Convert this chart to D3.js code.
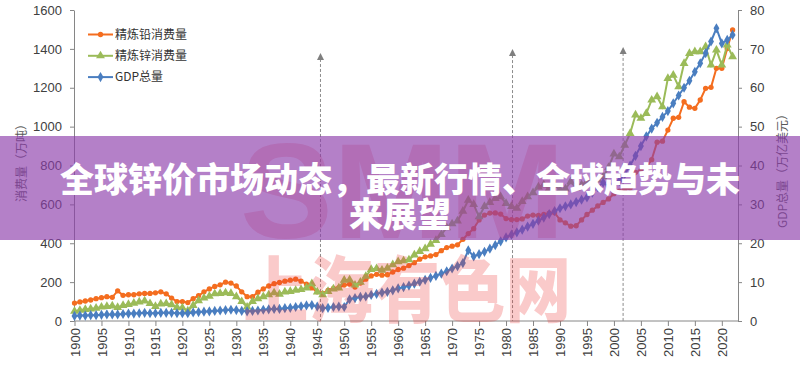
<!DOCTYPE html>
<html lang="zh">
<head>
<meta charset="UTF-8">
<script src="https://d3js.org/d3.v7.min.js"></script>
<style>
  body {margin: 0; background: #fff;}
  svg {display: block;}
  .axis text {font-family: "Liberation Sans", Arial, sans-serif; font-size: 13px; fill: #404040;}
  .axis path, .axis line {stroke: #868686;}
  .cn {font-family: "Noto Sans CJK SC", sans-serif;}
</style>
</head>
<body>
<svg id="chart" width="800" height="376"></svg>
<script>
// years on the category axis
const years = d3.range(1900, 2023);

// refined lead consumption (10k t)
const lead = [
  92, 98, 103, 108, 115, 120, 125, 122, 155, 132,
  135, 135, 140, 142, 142, 145, 150, 140, 118, 100,
  100, 95, 115, 130, 150, 165, 178, 186, 200, 195,
  180, 150, 125, 125, 148, 165, 180, 192, 198, 205,
  210, 215, 205, 190, 170, 150, 142, 158, 168, 172,
  185, 190, 175, 195, 215, 232, 240, 236, 238, 252,
  265, 272, 285, 300, 318, 330, 335, 342, 362, 378,
  385, 392, 420, 450, 475, 520, 545, 555, 556, 550,
  527, 522, 522, 525, 540, 545, 543, 548, 555, 557,
  520, 505, 488, 490, 520, 548, 570, 592, 610, 628,
  655, 668, 676, 684, 765, 775, 790, 830, 920, 925,
  982, 1043, 1048, 1128, 1100, 1094, 1137, 1197, 1202, 1300,
  1300, 1402, 1497
];

// refined zinc consumption (10k t)
const zinc = [
  50, 55, 60, 62, 66, 72, 75, 78, 70, 80,
  85, 92, 98, 103, 90, 75, 88, 90, 84, 70,
  68, 52, 80, 105, 118, 128, 140, 142, 145, 142,
  125, 100, 72, 100, 115, 125, 135, 145, 138, 150,
  152, 158, 162, 170, 192, 150, 135, 152, 165, 170,
  210, 212, 185, 200, 230, 265, 270, 262, 272, 290,
  305, 310, 315, 340, 358, 372, 395, 415, 445, 480,
  500, 515, 565, 622, 600, 536, 590, 610, 631, 640,
  605, 590, 580, 615, 640, 660, 690, 700, 682, 700,
  674, 680, 717, 683, 700, 717, 734, 726, 742, 790,
  860, 845, 905, 965, 1060, 1043, 1068, 1137, 1154, 1102,
  1248, 1265, 1205, 1325, 1377, 1386, 1386, 1411, 1317, 1394,
  1317, 1420, 1360
];

// GDP total (trillion USD), right axis
const gdp = [
  1.3, 1.4, 1.4, 1.5, 1.5, 1.6, 1.7, 1.7, 1.7, 1.8,
  1.9, 1.9, 2.0, 2.1, 2.0, 2.0, 2.1, 2.1, 2.1, 2.0,
  2.0, 2.0, 2.2, 2.3, 2.4, 2.5, 2.6, 2.7, 2.8, 2.9,
  2.8, 2.6, 2.5, 2.6, 2.7, 2.9, 3.0, 3.1, 3.1, 3.3,
  3.4, 3.6, 3.8, 4.0, 4.1, 3.7, 3.3, 3.4, 3.6, 3.7,
  3.6, 5.6, 5.9, 6.2, 6.3, 6.7, 7.0, 7.3, 7.5, 7.9,
  8.4, 8.7, 9.1, 9.6, 10.1, 10.6, 11.1, 11.6, 12.2, 12.8,
  13.5, 14.1, 14.9, 18.2, 16.6, 17.2, 17.8, 18.6, 19.5, 20.5,
  21.5, 22.2, 22.8, 23.5, 24.3, 25.0, 25.8, 26.6, 27.5, 28.3,
  29.0, 29.5, 30.0, 30.6, 31.2, 31.8, 33.0, 34.4, 35.6, 34.6,
  35.2, 36.0, 37.8, 40.0, 42.5, 45.0, 47.5, 49.5, 51.0, 52.5,
  54.0, 56.0, 58.0, 60.0, 61.8, 64.1, 66.3, 68.9, 71.9, 75.3,
  71.4, 72.3, 73.6
];

const leftTicks = [0, 200, 400, 600, 800, 1000, 1200, 1400, 1600];
const rightTicks = [0, 10, 20, 30, 40, 50, 60, 70, 80];
const yearTicks = d3.range(1900, 2021, 5);
const legendLabels = ["精炼铅消费量", "精炼锌消费量", "GDP总量"];
const markYears = [1945.6, 1981.2, 2001.7];
const markTops = [1379, 1399, 1410];
const titleLines = ["全球锌价市场动态，最新行情、全球趋势与未", "来展望"];

const svg = d3.select("#chart");

const x = d3.scaleLinear().domain([1900, 2023]).range([74.5, 738]);
const yL = d3.scaleLinear().domain([0, 1600]).range([321, 10]);
const yR = d3.scaleLinear().domain([0, 80]).range([321, 10]);

// left axis
svg.append("g").attr("class", "axis")
    .attr("transform", "translate(74,0)")
    .call(d3.axisLeft(yL).tickValues(leftTicks).tickFormat(d3.format("d"))
        .tickSize(4).tickSizeOuter(0).tickPadding(8));

// right axis
svg.append("g").attr("class", "axis")
    .attr("transform", "translate(738,0)")
    .call(d3.axisRight(yR).tickValues(rightTicks).tickFormat(d3.format("d"))
        .tickSize(4).tickSizeOuter(0).tickPadding(8));

// bottom axis
const xAxis = svg.append("g").attr("class", "axis")
    .attr("transform", "translate(0,321)")
    .call(d3.axisBottom(x).tickValues(yearTicks).tickFormat(d3.format("d")).tickSize(5).tickSizeOuter(0));
xAxis.select(".domain").attr("d", "M74,0H738");
xAxis.selectAll(".tick text")
    .attr("transform", "rotate(-90)")
    .attr("text-anchor", "end")
    .attr("x", -7).attr("y", 0).attr("dy", "0.35em");

// axis titles
svg.append("text").attr("class", "cn")
    .attr("transform", "translate(22,160) rotate(-90)")
    .attr("text-anchor", "middle").attr("dy", "0.35em")
    .attr("font-size", 12).attr("fill", "#595959")
    .text("消费量（万吨）");
svg.append("text").attr("class", "cn")
    .attr("transform", "translate(783,168) rotate(-90)")
    .attr("text-anchor", "middle").attr("dy", "0.35em")
    .attr("font-size", 12).attr("fill", "#595959")
    .text("GDP总量（万亿美元）");

// dashed event markers
markYears.forEach((yr, i) => {
    const mx = x(yr), top = yL(markTops[i]);
    svg.append("line")
        .attr("x1", mx).attr("x2", mx)
        .attr("y1", top + 6).attr("y2", 321)
        .attr("stroke", "#8c8c8c").attr("stroke-width", 1)
        .attr("stroke-dasharray", "3,2");
    svg.append("path")
        .attr("d", `M${mx},${top}L${mx + 3.5},${top + 7}L${mx - 3.5},${top + 7}Z`)
        .attr("fill", "#7f7f7f");
});

const series = [
    {vals: lead, y: yL, color: "#F46D1F", sym: d3.symbolCircle, size: 22},
    {vals: zinc, y: yL, color: "#9BBB59", sym: d3.symbolTriangle, size: 34},
    {vals: gdp, y: yR, color: "#4A7EC0", sym: d3.symbolDiamond, size: 30}
];

series.forEach(s => {
    const pts = years.map((yr, i) => [x(yr), s.y(s.vals[i])]);
    svg.append("path")
        .attr("d", d3.line()(pts))
        .attr("fill", "none")
        .attr("stroke", s.color)
        .attr("stroke-width", 2);
    svg.append("g").selectAll("path").data(pts).enter().append("path")
        .attr("transform", d => `translate(${d[0]},${d[1]})`)
        .attr("d", d3.symbol().type(s.sym).size(s.size))
        .attr("fill", s.color);
});

// legend
series.forEach((s, i) => {
    const ly = 34.5 + i * 21.3;
    svg.append("line")
        .attr("x1", 88).attr("x2", 113).attr("y1", ly).attr("y2", ly)
        .attr("stroke", s.color).attr("stroke-width", 2);
    svg.append("path")
        .attr("transform", `translate(100.5,${ly})`)
        .attr("d", d3.symbol().type(s.sym).size(s.size))
        .attr("fill", s.color);
    svg.append("text").attr("class", "cn")
        .attr("x", 115).attr("y", ly).attr("dy", "0.36em")
        .attr("font-size", 12).attr("fill", "#333")
        .text(legendLabels[i]);
});

// watermark
const wm = svg.append("g").attr("fill", "rgba(235,50,50,0.26)").attr("font-weight", 900);
wm.append("text")
    .attr("x", 240).attr("y", 238)
    .attr("font-family", "Liberation Sans, Arial, sans-serif")
    .attr("font-size", 136)
    .attr("textLength", 325).attr("lengthAdjust", "spacingAndGlyphs")
    .text("SMM");
wm.append("text").attr("class", "cn")
    .attr("x", 243).attr("y", 316)
    .attr("font-size", 72)
    .attr("textLength", 328).attr("lengthAdjust", "spacingAndGlyphs")
    .text("上海有色网");

// title band
svg.append("rect")
    .attr("x", 0).attr("y", 136).attr("width", 800).attr("height", 104)
    .attr("fill", "rgba(140,60,170,0.65)");

svg.append("g").selectAll("text").data(titleLines).enter().append("text")
    .attr("class", "cn")
    .attr("x", 400).attr("y", (d, i) => 192 + i * 35)
    .attr("text-anchor", "middle")
    .attr("font-size", 34).attr("font-weight", 900)
    .attr("fill", "#fff")
    .text(d => d);
</script>
</body>
</html>
